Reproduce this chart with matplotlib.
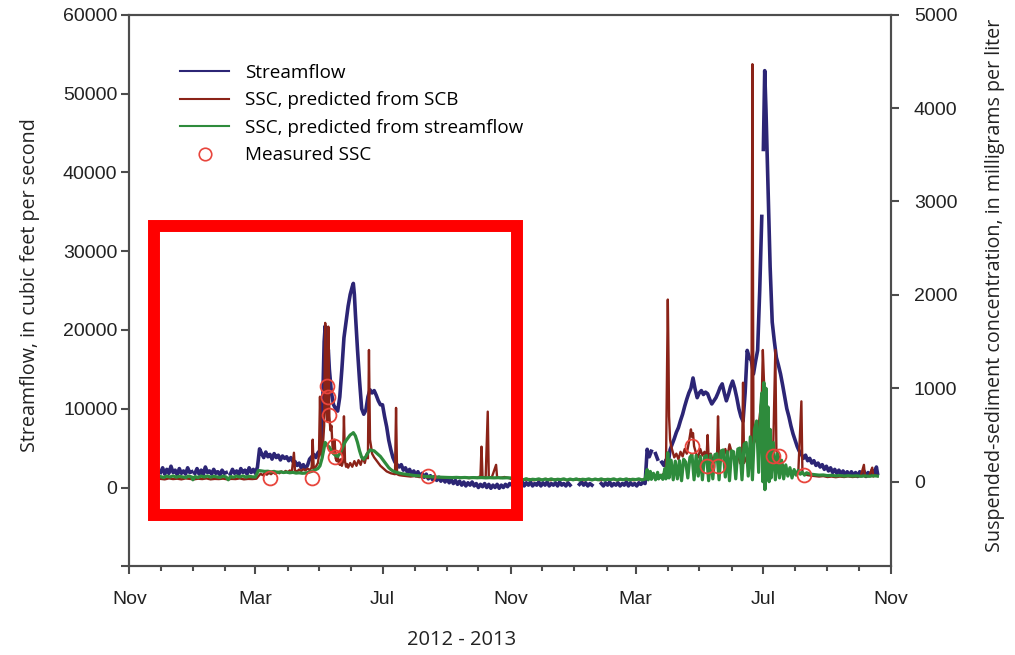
import numpy as np
import pandas as pd
import matplotlib
matplotlib.use("Agg")
import matplotlib.pyplot as plt
import matplotlib.dates as mdates
from matplotlib.lines import Line2D
from matplotlib.patches import Rectangle

nan = np.nan
START = pd.Timestamp("2011-11-01")

# streamflow, cfs (day = days after 2011-11-01)
flow_day = [30, 32, 34, 36, 38, 40, 42, 44, 46, 48, 50, 52, 54, 56, 58, 60, 61, 63, 65, 67, 69, 71, 73, 75, 77, 79,
            81, 83, 85, 87, 89, 91, 93, 95, 97, 99, 101, 103, 105, 107, 109, 111, 113, 115, 117, 119, 121, 123,
            125, 127, 129, 131, 133, 135, 137, 139, 141, 143, 145, 147, 149, 151, 153, 155, 157, 159, 161, 163,
            165, 167, 169, 171, 173, 175, 177, 179, 181, 183,
            185, 186, 187, 188, 189, 190, 191, 192, 194, 196, 198, 200, 202, 204, 206, 208, 210, 212, 214, 215,
            216, 217, 219, 221, 223, 225, 227, 229, 231, 233, 235, 237, 239, 241, 243, 245, 247, 249, 251, 253,
            255, 257, 259,
            261, 263, 265, 267, 269, 271, 273, 275, 277, 279, 281, 283, 285, 287, 289, 291, 293, 295, 297, 299,
            301, 303, 305, 307, 309, 311, 313, 315, 317, 319, 321, 323, 325, 327, 329, 331, 333, 335, 337, 339,
            341, 343, 345, 347, 349, 351, 353, 355, 357, 359, 361, 363, 365,
            367, 369, 371, 373, 375, 377, 379, 381, 383, 385, 387, 389, 391, 393, 395, 397, 399, 401, 403, 405,
            407, 409, 411, 413, 415, 417, 419, 421, 423, 425, 432, 434, 436, 438, 440, 442, 444, 446, 453, 455,
            457, 459, 461, 463, 465, 467, 469, 471, 473, 475, 477, 479, 481, 483, 485, 487, 489, 491, 493, 495,
            497, 499, 501, 503, 505, 507, 509, 511, 513, 515, 517, 519, 521, 523, 525, 527, 529, 531, 533, 535,
            537, 539, 541, 543, 545, 547, 549, 551, 553, 555, 557, 559, 561, 563, 565, 567, 569, 571, 573, 575,
            577, 579, 581, 583, 585, 587, 589, 591, 593, 595, 597, 599, 601, 603, 605, 607, 607.5, 608.5, 609.8,
            611, 613, 615, 617, 619, 621, 623, 625, 627, 629, 631, 633, 635, 637, 639, 641, 643, 645, 647, 649,
            651, 653, 655, 657, 659, 661, 663, 665, 667, 669, 671, 673, 675, 677, 679, 681, 683, 685, 687, 689,
            691, 693, 695, 697, 699, 701, 703, 705, 707, 709, 711, 713, 715, 717, 718]
flow_cfs = [1900, 2500, 1700, 2300, 1800, 2700, 1900, 2200, 1600, 2400, 1800, 2100, 1700, 2500, 1900, 2000, nan,
            1800, 2400, 1700, 2200, 1600, 2600, 1900, 2100, 1700, 2300, 1800, 2000, 1600, 2200, 1800, 1900, nan,
            1700, 2300, 1800, 2100, 1600, 2400, 1900, 2200, 1700, 2500, 1900, 2300, 1800, 2600,
            4900, 4300, 3800, 4500, 3900, 4200, 3600, 4300, 3800, 4100, 3500, 4000, 3700, 3900, 3400, 3800, 3300,
            3300, 2800, 3100, 2500, 2900, 2400, 2800, 3600, 3900, 4200, 3800, 4400, 4700,
            7500, 13000, 18500, 20500, 19000, 16500, 17500, 15000, 12000, 10500, 10000, 9700, 11500, 15000, 19000,
            21000, 23000, 24500, 25500, 25900, 24500, 22000, 17500, 13500, 10000, 9300, 9800, 11500, 12400, 12000,
            12300, 11700, 11000, 10500, 10500, 9000, 7700, 6000, 4800, 3800, 3200, 2900, 2600,
            2900, 2200, 2500, 1900, 2300, 1700, 2100, 1500, 2000, 1400, 1800, 1300, 1700, 1100, 1500, 1000, 1400,
            900, 1300, 800, 1200, 700, 1100, 600, 1000, 500, 900, 400, 800, 300, 700, 200, 600, 300, 700, 200,
            500, 0, 400, 100, 500, 0, 400, -100, 300, 0, 400, -100, 300, 0, 400, 100, 500,
            300, 700, 200, 600, 300, 800, 200, 600, 300, 700, 200, 500, 300, 700, 200, 600, 300, 700, 200, 500,
            300, 600, 200, 700, 300, 500, 200, 600, 300, nan, 400, 700, 300, 600, 200, 500, 300, nan, 500, 200,
            600, 300, 700, 200, 500, 300, 600, 200, 500, 300, 700, 200, 600, 300, 500, 200, 600, 400, 700, 500,
            4850, 3900, 4600, nan, 4300, 3600, nan, 3200, 2800, 3500, 2900, 4800, 5500, 6200, 7000, 7600, 8500,
            9300, 10300, 11200, 12000, 12600, 13900, 12500, 11400, 12000, 12300, 11800, 12100, 11900, 11200,
            10600, 11000, 11400, 12000, 12700, 13150, 12000, 11000, 11800, 12800, 13500, 12600, 11400, 10000,
            9000, 8400, 12000, 17400, 16500, 16100, 14400, 16000, 17400, 25000, 34400, nan, 42900, 52900,
            48000, 38000, 28000, 21000, 18600, 16500, 15500, 14400, 13000, 11500, 10000, 9000, 7800, 6800, 6000,
            5200, 4600, 4200, 3700, 4100, 3400, 3700, 3100, 3400, 2800, 3100, 2600, 2900, 2300, 2700, 2100, 2500,
            1900, 2300, 1800, 2200, 1700, 2100, 1600, 2000, 1500, 2000, 1500, 1900, 1400, 2000, 1500, 2100, 1400,
            1900, 1500, 2200, 1600, 2600, 1800]

# SSC predicted from SCB, mg/L
scb_day = [30, 34, 38, 42, 46, 50, 54, 58, 62, 66, 70, 74, 78, 82, 86, 90, 94, 98, 102, 106, 110, 114, 118, 122,
           124, 126, 128, 130, 132, 134, 136, 138, 140, 142, 144, 146, 148, 150, 152, 154, 156, 158, 159, 161,
           163, 165, 167, 169, 171, 173, 175, 176, 177, 179, 181, 182, 183, 184, 185, 186, 187, 188, 189, 190,
           191, 192, 193, 194, 195, 196, 197, 198, 199, 200, 201, 202, 203, 204, 205, 206, 207, 208, 209, 210,
           212, 214, 216, 218, 220, 222, 224, 226, 228, 229, 230, 231, 232, 233, 235, 237, 239, 241, 243, 245,
           247, 249, 251, 253, 255, 256, 257, 259, 262, 266, 270, 274, 278, 282, 286, 290, 294, 298, 302, 306,
           310, 314, 318, 322, 326, 330, 334, 337, 338, 339, 342, 344, 345, 348, 352, 353, 356, 360, 364,
           368, 372, 376, 380, 384, 388, 392, 396, 400, 404, 408, 412, 416, 420, 424, 428, 432, 436, 440, 444,
           448, 452, 456, 460, 464, 468, 472, 476, 480, 484, 488, 492, 496,
           498, 500, 502, 504, 506, 508, 510, 512, 514, 515, 516.8, 517.5, 518, 519, 520, 521, 523, 525, 527,
           529, 531, 533, 535, 537, 539, 540, 541, 542, 544, 546, 548, 550, 552, 554, 555, 556, 558, 560, 562,
           564, 565, 566, 568, 570, 572, 574, 576, 578, 580, 582, 584, 586, 588, 589, 590, 592, 594, 596, 597,
           598, 599, 601, 603, 605, 607, 608, 609, 610, 612, 614, 616, 618, 620, 621, 623, 625, 627, 629, 631,
           633, 636, 639, 642, 645, 646, 648, 651, 654, 658, 662, 666, 670, 674, 678, 682, 686, 690, 694, 698,
           702, 705, 706, 710, 713, 714, 716, 718]
scb_mgl = [30, 25, 35, 28, 32, 25, 35, 30, 25, 32, 28, 35, 25, 30, 28, 33, 25, 30, 28, 35, 25, 30, 28, 32,
           60, 85, 70, 90, 75, 95, 80, 100, 85, 105, 90, 110, 95, 115, 100, 120, 105, 310, 120, 110,
           130, 115, 135, 120, 140, 125, 150, 450, 135, 160, 200, 280, 910, 300, 260, 420, 600, 1700, 800, 650,
           1660, 700, 550, 600, 380, 300, 450, 250, 220, 280, 200, 180, 240, 170, 210, 700, 220, 160, 190, 150,
           200, 160, 220, 170, 230, 180, 260, 200, 300, 250, 1410, 450, 380, 300, 260, 230, 200, 170, 150, 130,
           110, 100, 90, 85, 80, 790, 80, 70, 65, 60, 55, 60, 50, 55, 45, 50, 45, 50, 40, 45,
           40, 48, 40, 45, 38, 45, 40, 60, 375, 50, 45, 750, 45, 50, 180, 45, 40, 50, 40,
           25, 15, 30, 20, 28, 15, 25, 20, 30, 15, 25, 20, 28, 15, 25, 20, 28, 15, 25, 20,
           28, 15, 25, 20, 28, 15, 25, 20, 28, 15, 25, 20, 30,
           40, 60, 45, 70, 50, 65, 45, 80, 60, 120, 1950, 1300, 700, 450, 380, 340, 260, 300, 240,
           320, 270, 350, 300, 420, 560, 480, 520, 380, 300, 260, 350, 280, 320, 260, 500, 250, 300, 220, 280,
           240, 700, 260, 320, 280, 350, 260, 400, 320, 280, 240, 300, 200, 180, 1060, 200, 250, 300, 280, 350,
           4470, 400, 450, 500, 700, 900, 1410, 1100, 900, 600, 500, 420, 380, 1410, 350, 280, 220, 180, 150, 130,
           120, 110, 100, 90, 860, 90, 80, 70, 65, 60, 55, 60, 50, 55, 48, 55, 50, 58, 50, 55,
           60, 180, 55, 60, 150, 55, 70, 60]

# SSC predicted from streamflow, mg/L
sfl_day = [30, 33, 36, 39, 42, 45, 48, 51, 54, 57, 60, 61, 63, 66, 69, 72, 75, 78, 81, 84, 87, 90, 93, 95, 97,
           100, 103, 106, 109, 112, 115, 118, 121, 124, 127, 130, 133, 136, 139, 142, 145, 148, 151, 154, 157,
           160, 163, 166, 169, 172, 175, 178, 181, 183, 185, 187, 188, 190, 192, 194, 196, 198, 200, 202, 204,
           206, 208, 210, 212, 214, 215, 217, 219, 221, 223, 225, 227, 229, 231, 233, 235, 237, 239, 241, 243,
           245, 247, 249, 251, 253, 255, 258, 262, 266, 270, 274, 278, 282, 286, 290, 294, 298, 302, 306, 310,
           314, 318, 322, 326, 330, 334, 338, 342, 346, 350, 354, 358, 362, 366,
           369, 372, 375, 378, 381, 384, 387, 390, 393, 396, 399, 402, 405, 408, 411, 414, 417, 420, 423, 426,
           429, 432, 435, 438, 441, 444, 447, 450, 453, 456, 459, 462, 465, 468, 471, 474, 477, 480, 483, 486,
           489, 492, 495,
           497, 498, 500, 501, 503, 505, 507, 508, 510, 512, 514, 515, 516.8, 518, 519,
           520, 522, 524, 526, 528, 530, 532, 534, 536, 538, 540, 542, 544, 546, 548, 550, 552, 554, 556, 558,
           560, 562, 564, 566, 568, 570, 572, 574, 576, 578, 580, 582, 584, 586, 588, 590, 592, 594, 596, 598,
           600, 602, 604, 606, 607, 608, 609, 610, 611, 612, 613, 614, 615, 616, 618, 620, 622, 624, 626, 628,
           630, 632, 634, 636, 638, 640, 642, 644, 646, 648, 650, 654, 658, 662, 666, 670, 674, 678, 682, 686,
           690, 694, 698, 702, 706, 710, 714, 718]
sfl_mgl = [55, 45, 60, 50, 62, 48, 58, 52, 45, 60, 50, 20, 55, 45, 60, 50, 62, 48, 58, 52, 45, 60, 50, 20, 55,
           48, 60, 50, 62, 48, 58, 52, 50, 120, 115, 110, 112, 105, 110, 100, 105, 98, 102, 95, 100,
           92, 95, 90, 92, 100, 110, 125, 140, 170, 250, 360, 420, 390, 370, 330, 300, 280, 270, 300, 350,
           400, 440, 470, 500, 515, 525, 490, 420, 330, 260, 240, 270, 310, 340, 335, 330, 310, 290, 270, 240,
           210, 180, 150, 130, 115, 105, 95, 85, 78, 72, 66, 62, 58, 55, 52, 50, 48, 46, 45, 44,
           46, 43, 45, 42, 44, 42, 44, 41, 43, 41, 43, 40, 42, 40,
           30, 18, 28, 20, 32, 18, 26, 22, 30, 18, 28, 20, 30, 18, 26, 22, 30, 18, 28, 20,
           30, 18, 26, 22, 30, 18, 28, 20, 30, 18, 26, 22, 30, 18, 28, 20, 30, 18, 26, 22,
           30, 18, 28,
           130, 20, 110, 25, 90, 20, 100, 30, 70, 25, 140, 30, 310, 40, 230,
           230, 20, 220, 30, 225, 10, 240, 210, 40, 260, 290, 20, 280, 60, 270, 20, 265, 280, 10, 285,
           30, 290, 300, 20, 330, 340, 50, 320, 10, 330, 320, 30, 350, 360, 20, 400, 420, 60, 480, 20,
           560, 650, 100, 800, 950, 0, 1060, -85, 1000, 50, 800, 0, 560, 40, 420, 20, 300, 40, 230, 30,
           180, 60, 150, 40, 130, 70, 120, 80, 100, 70, 95, 80, 75, 70, 72, 65, 68, 62, 66, 60,
           64, 60, 63, 58, 62, 58, 64, 60]

# measured SSC, mg/L
meas_day = [134.7, 175.0, 189.5, 190.4, 191.4, 196.2, 197.2, 286.6, 540.5, 554.0, 564.6, 617.5, 623.3, 647.3]
meas_mgl = [40, 40, 1020, 907, 717, 378, 264, 64, 385, 164, 171, 271, 271, 75]

legend_labels = ["Streamflow", "SSC, predicted from SCB", "SSC, predicted from streamflow", "Measured SSC"]

BLUE = "#2c2575"
RED = "#8b2318"
GREEN = "#2e8b3c"
CIRC = "#e8453c"
AXC = "#4d4d4d"
TICKFONT = "Liberation Sans"
LABFONT = "Open Sans"


def to_time(days):
    return START + pd.to_timedelta(np.asarray(days, dtype=float), unit="D")


fig = plt.figure(figsize=(10.15, 6.55), dpi=100)
ax = fig.add_axes([129.3 / 1015, 1 - 566.3 / 655, (891 - 129.3) / 1015, (566.3 - 14.7) / 655])
ax2 = ax.twinx()

ax.plot(to_time(flow_day), flow_cfs, color=BLUE, lw=2.6, zorder=2)
ax2.plot(to_time(scb_day), scb_mgl, color=RED, lw=1.7, zorder=3)
ax2.plot(to_time(sfl_day), sfl_mgl, color=GREEN, lw=2.3, zorder=4)
ax2.plot(to_time(meas_day), meas_mgl, ls="none", marker="o", ms=10, mfc="none", mec=CIRC, mew=1.3, zorder=5)

ax.set_xlim(START, pd.Timestamp("2013-11-01"))
ax.set_ylim(-10000, 60000)
ax2.set_ylim(-906, 5000)

ax.set_yticks(range(-10000, 60001, 10000))
ax.set_yticklabels([""] + [str(v) for v in range(0, 60001, 10000)])
ax2.set_yticks(range(0, 5001, 1000))

ax.xaxis.set_major_locator(mdates.MonthLocator(bymonth=[3, 7, 11]))
ax.xaxis.set_minor_locator(mdates.MonthLocator())
ax.xaxis.set_major_formatter(mdates.DateFormatter("%b"))

for a in (ax, ax2):
    for s in a.spines.values():
        s.set_color(AXC)
        s.set_linewidth(1.5)

ax.tick_params(axis="y", direction="out", length=5.5, width=1.5, color=AXC, pad=3, labelsize=14)
ax.tick_params(axis="x", which="major", direction="out", length=6, width=1.5, color=AXC, pad=12, labelsize=14)
ax.tick_params(axis="x", which="minor", direction="out", length=3.5, width=1.5, color=AXC)
ax2.tick_params(axis="y", direction="out", length=5.5, width=1.5, color=AXC, pad=11, labelsize=14)
for lab in ax.get_xticklabels() + ax.get_yticklabels() + ax2.get_yticklabels():
    lab.set_fontfamily(TICKFONT)
    lab.set_color("#222222")

fig.text(30 / 1015, 1 - 285 / 655, "Streamflow, in cubic feet per second", rotation=90,
         ha="center", va="center", fontsize=14.2, family=LABFONT, color="#222222")
fig.text(995 / 1015, 1 - 285 / 655, "Suspended-sediment concentration, in milligrams per liter", rotation=90,
         ha="center", va="center", fontsize=14.2, family=LABFONT, color="#222222")
fig.text(462 / 1015, 1 - 640 / 655, "2012 - 2013", ha="center", va="center", fontsize=14.5,
         family=LABFONT, color="#222222")

handles = [Line2D([], [], color=BLUE, lw=1.5),
           Line2D([], [], color=RED, lw=1.5),
           Line2D([], [], color=GREEN, lw=1.5),
           Line2D([], [], ls="none", marker="o", ms=9, mfc="none", mec=CIRC, mew=1.2)]
ax2.legend(handles, legend_labels, loc="upper left", bbox_to_anchor=(180 / 1015, 1 - 64 / 655),
           bbox_transform=fig.transFigure, frameon=False, borderaxespad=0, borderpad=0,
           handlelength=2.6, handletextpad=0.85, labelspacing=0.5, numpoints=1,
           prop={"family": LABFONT, "size": 13.6})

# red highlight box
fig.add_artist(Rectangle((154 / 1015, 1 - 515 / 655), (517 - 154) / 1015, (515 - 226) / 655,
                         transform=fig.transFigure, fill=False, edgecolor="#ff0000", linewidth=8.6,
                         joinstyle="miter", zorder=10))

fig.savefig("out.png", dpi=100)
